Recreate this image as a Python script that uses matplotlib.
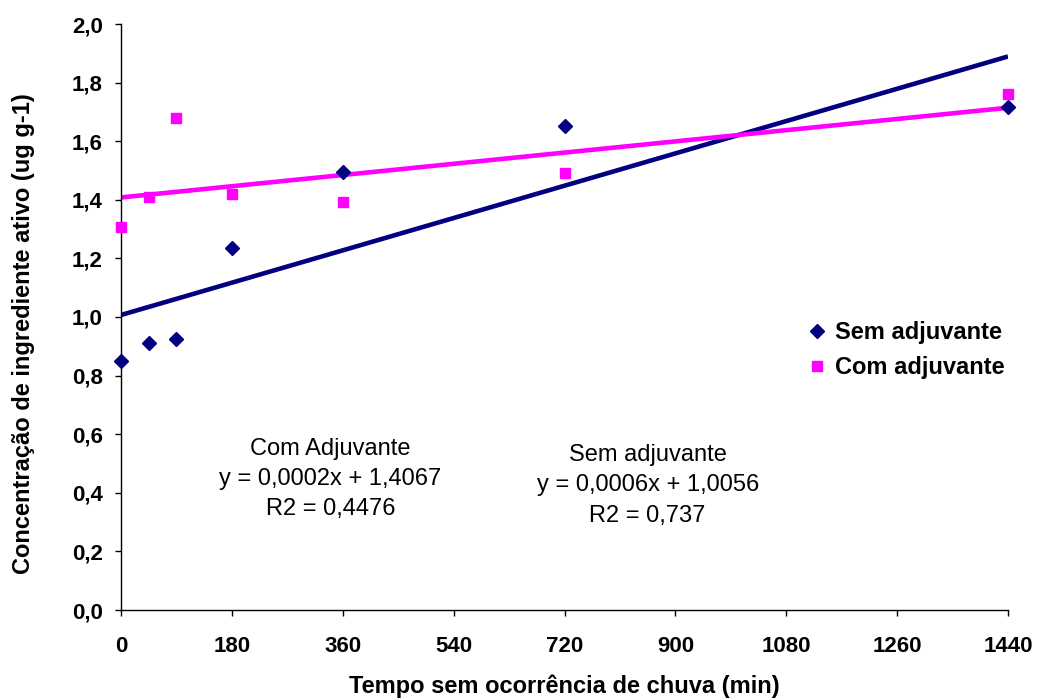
import numpy as np
import matplotlib.pyplot as plt

plt.rcParams['font.family'] = ['Liberation Sans', 'DejaVu Sans']

# Tempo sem chuva (min)
tempo = [0, 45, 90, 180, 360, 720, 1440]
# Concentração (ug g-1)
sem_adjuvante = [0.851, 0.910, 0.924, 1.234, 1.496, 1.652, 1.718]
com_adjuvante = [1.308, 1.411, 1.679, 1.419, 1.391, 1.490, 1.761]

x_ticks = [0, 180, 360, 540, 720, 900, 1080, 1260, 1440]
y_ticks = [0.0, 0.2, 0.4, 0.6, 0.8, 1.0, 1.2, 1.4, 1.6, 1.8, 2.0]

txt_com = "Com Adjuvante\ny = 0,0002x + 1,4067\nR2 = 0,4476"
txt_sem = "Sem adjuvante\ny = 0,0006x + 1,0056\nR2 = 0,737"

navy = '#000080'
magenta = '#FF00FF'

fig = plt.figure(figsize=(10.37, 6.98), dpi=100)
ax = fig.add_axes([121 / 1037, 88 / 698, 887 / 1037, 586 / 698])

x = np.array(tempo, dtype=float)
xx = np.array([0, 1440], dtype=float)

# linear trendlines (least squares, as in the spreadsheet)
for vals, col in [(sem_adjuvante, navy), (com_adjuvante, magenta)]:
    a, b = np.polyfit(x, vals, 1)
    ax.plot(xx, a * xx + b, color=col, lw=3.3, solid_capstyle='butt', zorder=2)

ax.plot(tempo, sem_adjuvante, 'D', color=navy, ms=7, ls='none',
        label='Sem adjuvante', zorder=3, clip_on=False)
ax.plot(tempo, com_adjuvante, 's', color=magenta, ms=7.5, ls='none',
        label='Com adjuvante', zorder=3, clip_on=False)

ax.set_xlim(0, 1440)
ax.set_ylim(0, 2.0)
ax.set_xticks(x_ticks)
ax.set_yticks(y_ticks)
ax.set_xticklabels([str(t) for t in x_ticks], fontsize=16, fontweight='bold')
ax.set_yticklabels([('%.1f' % v).replace('.', ',') for v in y_ticks],
                   fontsize=16, fontweight='bold')
ax.tick_params(axis='both', direction='out', length=4.5, width=1, color='black')
ax.tick_params(axis='x', pad=14)
ax.tick_params(axis='y', pad=8.5)

for s in ['top', 'right']:
    ax.spines[s].set_visible(False)
for s in ['left', 'bottom']:
    ax.spines[s].set_linewidth(1)
    ax.spines[s].set_color('black')

ax.set_xlabel('Tempo sem ocorrência de chuva (min)', fontsize=17,
              fontweight='bold', labelpad=12.5)
ax.set_ylabel('Concentração de ingrediente ativo (ug g-1)', fontsize=17,
              fontweight='bold')
ax.yaxis.set_label_coords(-0.097, 0.472)

ax.text(340, 0.448, txt_com, ha='center', va='center', fontsize=17, linespacing=1.48)
ax.text(855, 0.425, txt_sem, ha='center', va='center', fontsize=17, linespacing=1.48)

ax.legend(loc='center left', bbox_to_anchor=(0.749, 0.443), frameon=False,
          prop={'size': 17, 'weight': 'bold'}, handletextpad=0.3,
          labelspacing=0.5, handlelength=0.9)

fig.savefig('out.png', dpi=100)
